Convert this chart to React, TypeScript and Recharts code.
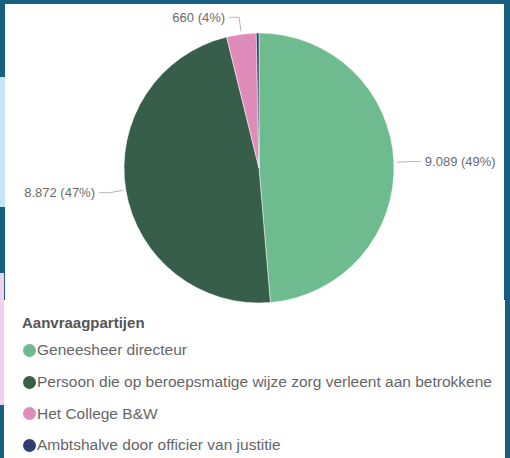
import React from "react";
import { PieChart, Pie, Cell, Legend } from "recharts";

const parties = [
  "Geneesheer directeur",
  "Persoon die op beroepsmatige wijze zorg verleent aan betrokkene",
  "Het College B&W",
  "Ambtshalve door officier van justitie",
];
const requests = [9089, 8872, 660, 60];
const colors = ["#6dbb8e", "#375e4a", "#df8cbb", "#2d3d6d"];
const legendTitle = "Aanvraagpartijen";

const data = parties.map((name, i) => ({ name, value: requests[i] }));

const CX = 259;
const CY = 168;
const R = 135;
const RADIAN = Math.PI / 180;
const font = "'Liberation Sans', Arial, sans-serif";

const formatNumber = (n: number) =>
  String(n).replace(/\B(?=(\d{3})+(?!\d))/g, ".");

const renderLabel = (props: any) => {
  const midAngle = Number(props.midAngle);
  const percent = Number(props.percent);
  const value = Number(props.value);
  if (!(percent >= 0.01)) return null;
  const cos = Math.cos(-midAngle * RADIAN);
  const sin = Math.sin(-midAngle * RADIAN);
  const sx = CX + (R + 3) * cos;
  const sy = CY + (R + 3) * sin;
  const mx = CX + (R + 17) * cos;
  const my = CY + (R + 17) * sin;
  const ex = mx + (cos >= 0 ? 1 : -1) * 10;
  const anchor = cos >= 0 ? "start" : "end";
  return (
    <g>
      <path
        d={`M${sx},${sy}L${mx},${my}L${ex},${my}`}
        stroke="#b5b5b5"
        fill="none"
      />
      <text
        x={ex + (cos >= 0 ? 4 : -4)}
        y={my}
        textAnchor={anchor}
        dominantBaseline="central"
        fill="#6b6b6b"
        fontSize={13}
        fontFamily={font}
      >
        {`${formatNumber(value)} (${Math.round(percent * 100)}%)`}
      </text>
    </g>
  );
};

const renderLegend = () => (
  <div style={{ paddingLeft: 22, fontFamily: font }}>
    <div
      style={{
        height: 22.5,
        lineHeight: "22.5px",
        fontWeight: "bold",
        fontSize: 15,
        color: "#555",
      }}
    >
      {legendTitle}
    </div>
    {parties.map((name, i) => (
      <div
        key={name}
        style={{
          display: "flex",
          alignItems: "center",
          height: 31.7,
          fontSize: 15.5,
          color: "#666",
          whiteSpace: "nowrap",
        }}
      >
        <span
          style={{
            display: "inline-block",
            width: 13,
            height: 13,
            borderRadius: "50%",
            background: colors[i],
            marginLeft: 1,
            marginRight: 1,
          }}
        />
        {name}
      </div>
    ))}
  </div>
);

const patch = (left: number, top: number, width: number, height: number, background: string) => (
  <div style={{ position: "absolute", left, top, width, height, background }} />
);

export default function App() {
  return (
    <div
      style={{
        position: "absolute",
        left: 0,
        top: 0,
        width: 510,
        height: 458,
        background: "#165f80",
        overflow: "hidden",
      }}
    >
      {patch(0, 77, 5, 130, "#c3e5f5")}
      {patch(0, 273, 4, 132, "#f2d0ef")}
      {patch(5, 4, 499, 296, "#fff")}
      {patch(4, 300, 501, 158, "#fff")}
      <div style={{ position: "absolute", left: 0, top: 0, width: 510, height: 458 }}>
        <PieChart width={510} height={458} margin={{ top: 0, right: 0, bottom: 0, left: 0 }}>
          <Pie
            data={data}
            dataKey="value"
            nameKey="name"
            cx={CX}
            cy={CY}
            outerRadius={R}
            startAngle={90}
            endAngle={-270}
            stroke="#fff"
            strokeWidth={0.5}
            label={renderLabel}
            labelLine={false}
            isAnimationActive={false}
          >
            {data.map((d, i) => (
              <Cell key={d.name} fill={colors[i]} />
            ))}
          </Pie>
          <Legend
            layout="horizontal"
            verticalAlign="bottom"
            align="left"
            content={renderLegend}
            wrapperStyle={{ position: "absolute", left: 0, top: 312, width: 505, bottom: "auto" }}
          />
        </PieChart>
      </div>
    </div>
  );
}
